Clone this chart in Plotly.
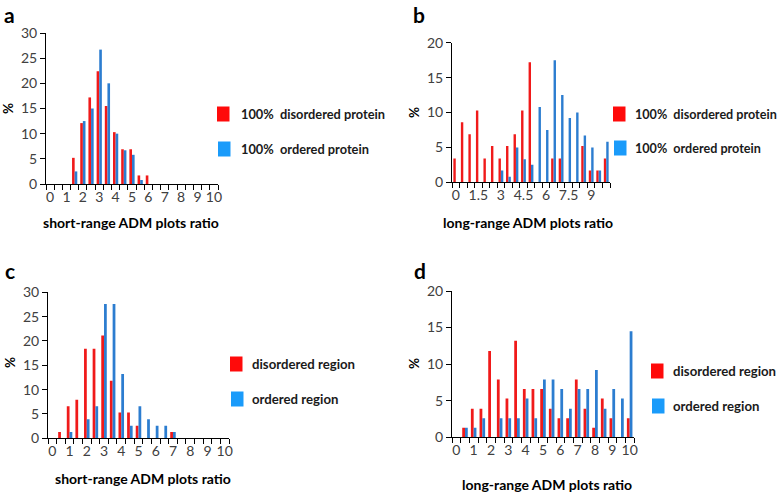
import plotly.graph_objects as go

# ---- data ----
bins = [0, 0.5, 1, 1.5, 2, 2.5, 3, 3.5, 4, 4.5, 5, 5.5, 6, 6.5, 7, 7.5, 8, 8.5, 9, 9.5, 10]

a_disordered = [0, 0, 0, 5.2, 12.1, 17.2, 22.4, 15.5, 10.3, 6.9, 6.9, 1.7, 1.7, 0, 0, 0, 0, 0, 0, 0, 0]
a_ordered = [0, 0, 0, 2.5, 12.5, 15.0, 26.7, 20.0, 10.0, 6.7, 5.8, 0.8, 0, 0, 0, 0, 0, 0, 0, 0, 0]

b_disordered = [3.4, 8.6, 6.9, 10.3, 3.4, 5.2, 3.4, 5.2, 6.9, 10.3, 17.2, 0, 0, 3.4, 3.4, 0, 0, 5.2, 1.7, 1.7, 3.4]
b_ordered = [0, 0, 0, 0, 0, 0, 1.7, 0.8, 5.0, 3.3, 2.5, 10.8, 7.5, 17.5, 12.5, 9.2, 10.0, 6.7, 5.0, 1.7, 5.8]

c_disordered = [0, 1.3, 6.6, 7.9, 18.4, 18.4, 21.1, 11.8, 5.3, 5.3, 2.6, 0, 0, 0, 1.3, 0, 0, 0, 0, 0, 0]
c_ordered = [0, 0, 1.3, 0, 3.9, 6.6, 27.6, 27.6, 13.2, 2.6, 6.6, 3.9, 2.6, 2.6, 1.3, 0, 0, 0, 0, 0, 0]

d_disordered = [0, 1.3, 3.9, 3.9, 11.8, 7.9, 5.3, 13.2, 6.6, 6.6, 6.6, 3.9, 2.6, 2.6, 7.9, 3.9, 1.3, 5.3, 2.6, 0, 2.6]
d_ordered = [0, 1.3, 1.3, 2.6, 0, 2.6, 2.6, 2.6, 5.3, 2.6, 7.9, 7.9, 6.6, 3.9, 6.6, 6.6, 9.2, 3.9, 6.6, 5.3, 14.5]

short_ticks = [0, 1, 2, 3, 4, 5, 6, 7, 8, 9, 10]
long_ticks_b = [0, 1.5, 3, 4.5, 6, 7.5, 9]
long_ticks_d = [0, 1, 2, 3, 4, 5, 6, 7, 8, 9, 10]

legend_ab = ["100%  disordered protein", "100%  ordered protein"]
legend_cd = ["disordered region", "ordered region"]

# ---- style ----
W, H = 778, 493
RED_BAR = "#F01A1A"
BLUE_BAR = "#2C7DD0"
RED_SW = "#FF0A0A"
BLUE_SW = "#1A9BFA"
FONT = "Lato"
TICKC = "#404040"

def px_x(x):
    return x / W

def px_y(y):
    return 1 - y / H

panels = [
    dict(dis=a_disordered, ord=a_ordered, ticks=short_ticks, ymax=30, x0=46, x1=218, yt=33, yb=184),
    dict(dis=b_disordered, ord=b_ordered, ticks=long_ticks_b, ymax=20, x0=452, x1=610, yt=42.7, yb=182.3),
    dict(dis=c_disordered, ord=c_ordered, ticks=short_ticks, ymax=30, x0=48, x1=229, yt=292.3, yb=438.3),
    dict(dis=d_disordered, ord=d_ordered, ticks=long_ticks_d, ymax=20, x0=452, x1=634, yt=291, yb=437.3),
]

fig = go.Figure()
boundaries = [b - 0.25 for b in bins] + [10.25]

for i, p in enumerate(panels):
    n = "" if i == 0 else str(i + 1)
    xa, ya = "x" + n, "y" + n
    fig.add_trace(go.Bar(x=bins, y=p["dis"], marker=dict(color=RED_BAR, line=dict(width=0)),
                         xaxis=xa, yaxis=ya, showlegend=False, offsetgroup="d"))
    fig.add_trace(go.Bar(x=bins, y=p["ord"], marker=dict(color=BLUE_BAR, line=dict(width=0)),
                         xaxis=xa, yaxis=ya, showlegend=False, offsetgroup="o"))
    fig.layout["xaxis" + n] = dict(
        domain=[px_x(p["x0"]), px_x(p["x1"])], anchor=ya, range=[-0.25, 10.25],
        tickvals=p["ticks"], ticktext=[str(t) for t in p["ticks"]], ticks="",
        minor=dict(tickvals=boundaries, ticks="outside", ticklen=5, tickcolor="black", tickwidth=1),
        showline=True, linecolor="black", linewidth=1, showgrid=False, zeroline=False,
        tickfont=dict(family=FONT, size=14, color=TICKC), fixedrange=True, automargin=False,
    )
    fig.layout["yaxis" + n] = dict(
        domain=[px_y(p["yb"]), px_y(p["yt"])], anchor=xa, range=[0, p["ymax"]],
        dtick=5, ticks="outside", ticklen=5, tickcolor="black",
        showline=True, linecolor="black", linewidth=1, showgrid=False, zeroline=False,
        tickfont=dict(family=FONT, size=14, color=TICKC), fixedrange=True, automargin=False,
    )

fig.update_layout(barmode="group", bargap=0.36, bargroupgap=0.0)

ann = []
def text(x, y, s, size, bold=True, angle=0, xanchor="center", yanchor="middle", color="black"):
    ann.append(dict(x=px_x(x), y=px_y(y), xref="paper", yref="paper", text=(f"<b>{s}</b>" if bold else s),
                    showarrow=False, font=dict(family=FONT, size=size, color=color),
                    textangle=angle, xanchor=xanchor, yanchor=yanchor))

# panel letters
text(1.5, 0, "a", 21, xanchor="left", yanchor="top")
text(411, 0, "b", 21, xanchor="left", yanchor="top")
text(3, 270, "c", 21, xanchor="left")
text(412, 270, "d", 21, xanchor="left")
# y titles
text(8, 108, "%", 13.5, angle=-90)
text(414, 113, "%", 13.5, angle=-90)
text(10, 363, "%", 13.5, angle=-90)
text(414, 364, "%", 13.5, angle=-90)
# x titles
text(131, 222, "short-range ADM plots ratio", 14)
text(528, 222, "long-range ADM plots ratio", 14)
text(143, 478, "short-range ADM plots ratio", 14)
text(547, 484, "long-range ADM plots ratio", 14)

shapes = []
def swatch(x0, y0, x1, y1, col):
    shapes.append(dict(type="rect", xref="paper", yref="paper", x0=px_x(x0), x1=px_x(x1),
                       y0=px_y(y1), y1=px_y(y0), fillcolor=col, line=dict(width=0)))

legs = [
    (217, 114, 239, 149, legend_ab, 12.8),
    (613, 114, 633, 148, legend_ab, 12.6),
    (230, 364, 250, 399, legend_cd, 13.2),
    (651, 371, 671, 406, legend_cd, 13.2),
]
for sx, y1, tx, y2, labels, fs in legs:
    swatch(sx, y1 - 7.5, sx + 12.5, y1 + 7.5, RED_SW)
    swatch(sx + 1, y2 - 7.5, sx + 13.5, y2 + 7.5, BLUE_SW)
    text(tx, y1, labels[0], fs, xanchor="left", color="#1a1a1a")
    text(tx, y2, labels[1], fs, xanchor="left", color="#1a1a1a")

fig.update_layout(annotations=ann, shapes=shapes, width=W, height=H,
                  margin=dict(l=0, r=0, t=0, b=0, pad=0, autoexpand=False),
                  paper_bgcolor="white", plot_bgcolor="white",
                  font=dict(family=FONT))
fig.write_html("out.html", config={"displayModeBar": False, "staticPlot": True},
               post_script="document.body.style.margin='0px';")
